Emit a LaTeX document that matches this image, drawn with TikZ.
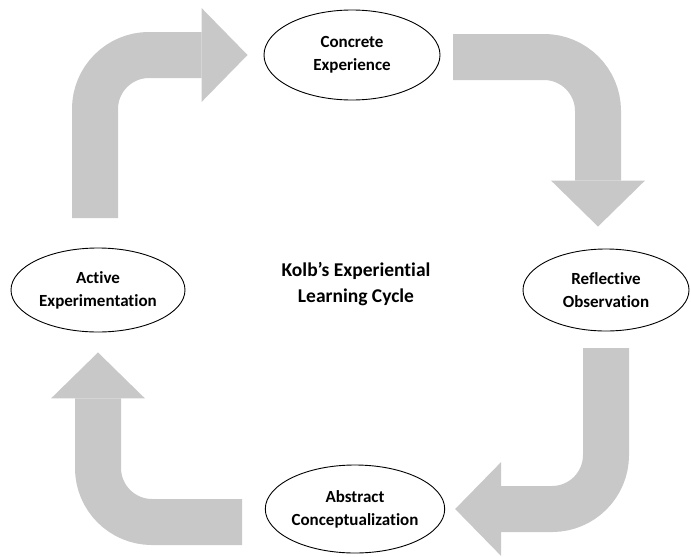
\documentclass[tikz,border=0pt]{standalone}
\usepackage{fontspec}
\setmainfont{Carlito}[Ligatures=NoCommon]
\usepackage{tikz}
\usetikzlibrary{arrows.meta,shapes.geometric}
\definecolor{arrowgray}{RGB}{200, 200, 200}

\begin{document}
\begin{tikzpicture}[x=1pt, y=-1pt,
    stage/.style={ellipse, draw, line width=0.9pt, inner sep=0pt, align=center,
      font=\fontsize{17}{23}\selectfont\bfseries},
    bentarrow/.style={draw=arrowgray, line width=46pt, rounded corners=54pt,
      -{Triangle[length=46pt, width=94pt, line width=0pt]}}]
    \useasboundingbox (0,0) rectangle (691,557);
    % the four stages
    \node[stage, minimum width=176pt, minimum height=90pt] (ce) at (352,55) {Concrete\\Experience};
    \node[stage, minimum width=166pt, minimum height=82pt] (ro) at (606,290) {Reflective\\Observation};
    \node[stage, minimum width=176pt, minimum height=88pt] (ac) at (355,509) {Abstract\\Conceptualization};
    \node[stage, minimum width=174pt, minimum height=84pt] (ae) at (98,290) {Active\\Experimentation};
    \node[font=\fontsize{19.5}{26}\selectfont\bfseries, align=center] (title) at (356,284) {Kolb’s Experiential\\Learning Cycle};
    % block arrows between them
    \coordinate (aetail) at (95,218);
    \coordinate (cetail) at (453,57);
    \coordinate (rotail) at (606,348);
    \coordinate (actail) at (242,522);
    \draw[bentarrow, shorten >=16pt] (aetail) |- (ce.west);
    \draw[bentarrow, shorten >=22pt] (cetail) -| ([xshift=-8pt]ro.north);
    \draw[bentarrow, shorten >=10pt] (rotail) |- (ac.east);
    \draw[bentarrow, shorten >=20pt] (actail) -| (ae.south);
\end{tikzpicture}
\end{document}
